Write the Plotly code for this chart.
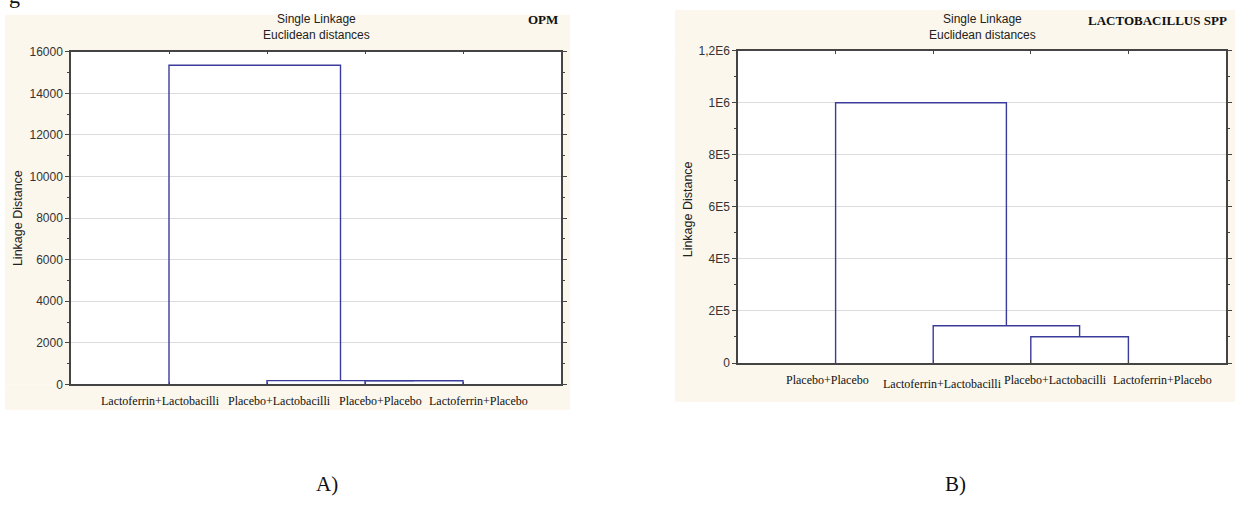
import plotly.graph_objects as go

# ---- data -------------------------------------------------------------
opm_leaves = ["Lactoferrin+Lactobacilli", "Placebo+Lactobacilli",
              "Placebo+Placebo", "Lactoferrin+Placebo"]
# merges: (left node, right node, linkage distance); nodes 1..4 are leaves,
# later nodes are named by the merge index ("c1", "c2", ...)
opm_merges = [(3, 4, 175), (2, "c1", 180), (1, "c2", 15350)]
opm_yticks = [0, 2000, 4000, 6000, 8000, 10000, 12000, 14000, 16000]
opm_yticklabels = ["0", "2000", "4000", "6000", "8000", "10000", "12000", "14000", "16000"]

lac_leaves = ["Placebo+Placebo", "Lactoferrin+Lactobacilli",
              "Placebo+Lactobacilli", "Lactoferrin+Placebo"]
lac_merges = [(3, 4, 101000), (2, "c1", 143000), (1, "c2", 1000000)]
lac_yticks = [0, 200000, 400000, 600000, 800000, 1000000, 1200000]
lac_yticklabels = ["0", "2E5", "4E5", "6E5", "8E5", "1E6", "1,2E6"]

# ---- styling ----------------------------------------------------------
W, H = 1241, 513
LINE = "#3b3b9c"
CREAM = "#fcf7ec"
SANS = "Liberation Sans, Arial, sans-serif"
SERIF = "Liberation Serif, Times New Roman, serif"

# pixel boxes: (left, top, right, bottom)
PANEL_A, PLOT_A = (5, 8, 570, 414), (71, 46, 561, 388)
PANEL_B, PLOT_B = (675, 3, 1235, 406), (738, 45, 1226, 366)


def px_x(x):
    return x / W


def px_y(y):
    return 1 - y / H


def dendro_segments(merges):
    pos = {}
    xs, ys = [], []
    for i, (a, b, h) in enumerate(merges, start=1):
        xa, ya = pos.get(a, (a, 0))
        xb, yb = pos.get(b, (b, 0))
        xs += [xa, xa, xb, xb, None]
        ys += [ya, h, h, yb, None]
        pos["c%d" % i] = ((xa + xb) / 2, h)
    return xs, ys


fig = go.Figure()

for merges, xa, ya in [(opm_merges, "x", "y"), (lac_merges, "x2", "y2")]:
    xs, ys = dendro_segments(merges)
    fig.add_trace(go.Scatter(x=xs, y=ys, mode="lines", xaxis=xa, yaxis=ya,
                             line=dict(color=LINE, width=1.4),
                             hoverinfo="skip", showlegend=False))

axis_common = dict(showline=True, linecolor="#444444", linewidth=1.5, mirror="ticks",
                   zeroline=False, tickcolor="#444444")

xax = dict(axis_common, range=[0, 5], tickvals=[1, 2, 3, 4], ticks="inside",
           ticklen=3, showticklabels=False, showgrid=False)

yfont = dict(family=SANS, size=12, color="#333333")

fig.update_layout(
    width=W, height=H,
    margin=dict(l=0, r=0, t=0, b=0),
    paper_bgcolor="white", plot_bgcolor="white",
    showlegend=False,
    xaxis=dict(xax, domain=[px_x(PLOT_A[0]), px_x(PLOT_A[2])], anchor="y"),
    yaxis=dict(axis_common, domain=[px_y(PLOT_A[3]), px_y(PLOT_A[1])], anchor="x",
               range=[0, 16000], tickvals=opm_yticks, ticktext=opm_yticklabels,
               ticks="outside", ticklen=4, tickfont=yfont,
               showgrid=True, gridcolor="#dcdcdc", gridwidth=1,
               minor=dict(ticks="outside", ticklen=2, dtick=1000, tickcolor="#444444",
                          showgrid=False)),
    xaxis2=dict(xax, domain=[px_x(PLOT_B[0]), px_x(PLOT_B[2])], anchor="y2"),
    yaxis2=dict(axis_common, domain=[px_y(PLOT_B[3]), px_y(PLOT_B[1])], anchor="x2",
                range=[0, 1200000], tickvals=lac_yticks, ticktext=lac_yticklabels,
                ticks="outside", ticklen=4, tickfont=yfont,
                showgrid=True, gridcolor="#dcdcdc", gridwidth=1,
                minor=dict(ticks="outside", ticklen=2, dtick=100000, tickcolor="#444444",
                           showgrid=False)),
)


# cream frame around each plotting area (four strips, leaving the plot white)
def cream_frame(panel, plot):
    L, T, R, B = panel
    l, t, r, b = plot
    for x0, y0, x1, y1 in ((L, T, R, t), (L, b, R, B), (L, t, l, b), (r, t, R, b)):
        fig.add_shape(type="rect", xref="paper", yref="paper", layer="below",
                      x0=px_x(x0), x1=px_x(x1), y0=px_y(y1), y1=px_y(y0),
                      line=dict(width=0), fillcolor=CREAM)


cream_frame(PANEL_A, PLOT_A)
cream_frame(PANEL_B, PLOT_B)

ann = []


def text(x, y, s, size=12, family=SANS, color="#222222", xanchor="center", angle=0):
    ann.append(dict(x=px_x(x), y=px_y(y), xref="paper", yref="paper", text=s,
                    showarrow=False, xanchor=xanchor, yanchor="middle",
                    font=dict(family=family, size=size, color=color), textangle=angle))


# titles
for cx in (316, 982):
    text(cx, 12, "Single Linkage")
    text(cx, 29, "Euclidean distances")
text(560, 13, "<b>OPM</b>", size=13, family=SERIF, color="#111111", xanchor="right")
text(1229, 14, "<b>LACTOBACILLUS SPP</b>", size=13, family=SERIF, color="#111111",
     xanchor="right")

# y-axis titles
text(18, 217, "Linkage Distance", size=12.5, angle=-90)
text(688, 208, "Linkage Distance", size=12.5, angle=-90)

# leaf labels under each tree
opm_shift = [-9, 12, 15, 15]
for i, (lab, dx) in enumerate(zip(opm_leaves, opm_shift), start=1):
    ann.append(dict(x=i, y=0, xref="x", yref="y", text=lab, showarrow=False,
                    xshift=dx, yshift=-17, yanchor="middle",
                    font=dict(family=SERIF, size=12, color="#111111")))
lac_shift = [-8, 9, 25, 34]
lac_dy = [-17, -21, -17, -17]
for i, (lab, dx, dy) in enumerate(zip(lac_leaves, lac_shift, lac_dy), start=1):
    ann.append(dict(x=i, y=0, xref="x2", yref="y2", text=lab, showarrow=False,
                    xshift=dx, yshift=dy, yanchor="middle",
                    font=dict(family=SERIF, size=12, color="#111111")))

# panel captions
text(327, 490, "A)", size=21, family=SERIF, color="#111111")
text(955, 490, "B)", size=21, family=SERIF, color="#111111")
# descender of a line of text running off the top edge
text(14, -12, "g", size=22, family=SERIF, color="#111111")

fig.update_layout(annotations=ann)
fig.write_html("out.html")
